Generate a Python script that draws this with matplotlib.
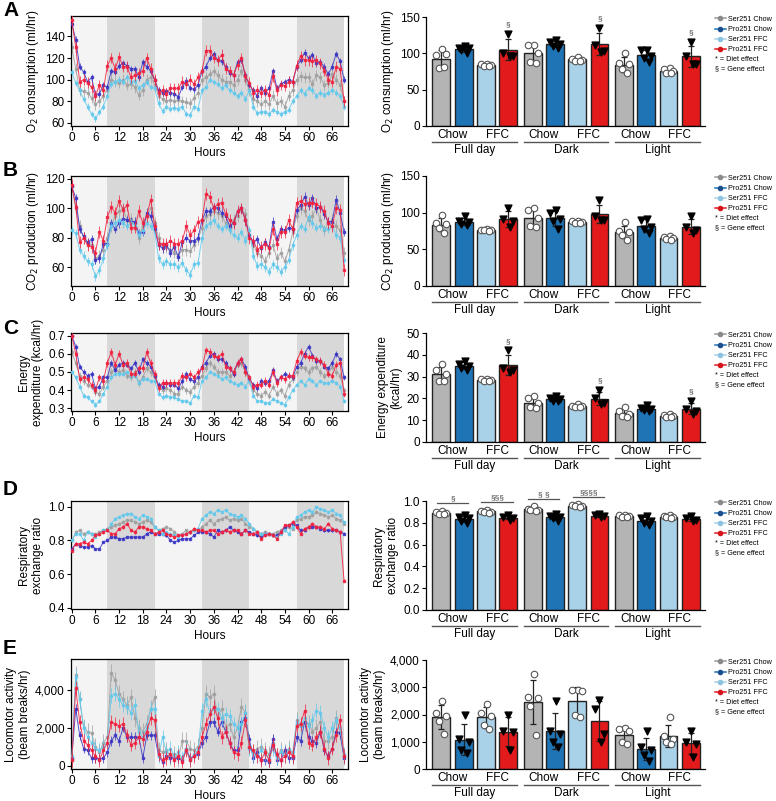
import numpy as np
import matplotlib.pyplot as plt
import matplotlib.transforms as mtransforms
from matplotlib.lines import Line2D
from matplotlib.ticker import FuncFormatter

plt.rcParams['font.family'] = ['Liberation Sans', 'DejaVu Sans']

hours = np.arange(70)
groups = ['Ser251 Chow', 'Pro251 Chow', 'Ser251 FFC', 'Pro251 FFC']
periods = ['Full day', 'Dark', 'Light']
diets = ['Chow', 'FFC']
dark_phases = [(9, 21), (33, 45), (57, 69)]
light_phases = [(0, 9), (21, 33), (45, 57)]

# ---- hourly traces (mean per hour) ----
o2_ser_chow = [130, 110, 90, 89, 88, 83, 77, 80, 85, 90, 100, 98, 97, 100, 95, 96, 93, 86, 90, 100,
               102, 95, 85, 82, 80, 81, 80, 81, 80, 79, 78, 83, 88, 100, 102, 105, 108, 104, 100, 98,
               98, 95, 100, 108, 100, 90, 82, 80, 77, 80, 77, 85, 78, 80, 75, 85, 90, 100, 103, 102,
               102, 96, 104, 102, 95, 97, 105, 100, 95, 80]
o2_ser_ffc = [107, 97, 90, 82, 75, 68, 64, 70, 75, 85, 96, 98, 100, 98, 102, 98, 99, 92, 95, 98,
              93, 92, 78, 71, 75, 73, 74, 73, 75, 68, 67, 75, 73, 90, 93, 100, 98, 96, 92, 95,
              90, 88, 85, 88, 82, 90, 75, 69, 70, 70, 68, 72, 70, 68, 70, 72, 80, 85, 90, 87,
              92, 90, 85, 88, 86, 88, 90, 88, 85, 75]
o2_pro_chow = [152, 137, 112, 107, 98, 102, 86, 87, 95, 93, 108, 107, 113, 115, 113, 110, 110, 102, 116, 112,
               108, 100, 90, 88, 89, 88, 87, 84, 93, 99, 92, 91, 95, 108, 112, 120, 124, 118, 117, 112,
               106, 104, 116, 118, 104, 95, 90, 85, 92, 88, 92, 108, 92, 96, 98, 100, 98, 112, 118, 125,
               120, 123, 115, 116, 112, 105, 112, 124, 117, 100]
o2_pro_ffc = [155, 130, 98, 100, 97, 93, 85, 95, 90, 113, 120, 110, 121, 112, 112, 102, 104, 106, 108, 120,
              110, 100, 88, 90, 87, 92, 92, 92, 98, 96, 100, 96, 102, 108, 127, 127, 120, 118, 123, 110,
              108, 104, 114, 120, 103, 97, 88, 90, 88, 90, 86, 103, 90, 95, 94, 98, 98, 113, 122, 118,
              118, 117, 118, 115, 108, 100, 98, 112, 110, 80]

co2_ser_chow = [115, 100, 88, 80, 76, 75, 66, 68, 72, 80, 88, 95, 98, 100, 92, 93, 90, 80, 88, 95,
                100, 90, 80, 74, 74, 72, 70, 68, 72, 72, 71, 75, 79, 87, 95, 96, 98, 97, 95, 90,
                87, 92, 95, 100, 96, 82, 75, 70, 68, 64, 70, 75, 66, 70, 64, 72, 84, 95, 100, 98,
                92, 95, 100, 92, 85, 90, 92, 88, 85, 70]
co2_ser_ffc = [85, 83, 72, 68, 64, 62, 54, 58, 66, 75, 88, 90, 92, 90, 88, 90, 88, 82, 85, 90,
               88, 84, 66, 62, 64, 62, 62, 60, 63, 58, 55, 62, 63, 80, 88, 90, 92, 88, 86, 88,
               85, 82, 80, 84, 78, 85, 68, 61, 62, 60, 57, 62, 60, 57, 60, 65, 75, 82, 88, 86,
               94, 90, 87, 88, 86, 86, 88, 82, 80, 65]
co2_pro_chow = [115, 107, 86, 81, 77, 79, 65, 66, 76, 76, 90, 86, 90, 93, 92, 91, 91, 83, 84, 97,
                95, 86, 75, 73, 75, 70, 74, 67, 77, 80, 78, 78, 80, 92, 98, 98, 101, 100, 97, 95,
                88, 90, 98, 100, 92, 82, 77, 79, 73, 77, 74, 91, 79, 86, 85, 87, 86, 99, 102, 108,
                102, 107, 100, 101, 96, 91, 91, 106, 97, 84]
co2_pro_ffc = [116, 101, 77, 80, 75, 74, 70, 84, 78, 94, 101, 97, 105, 99, 102, 87, 87, 98, 90, 95,
               106, 88, 76, 76, 76, 78, 76, 76, 78, 88, 82, 85, 91, 92, 110, 108, 100, 103, 104, 96,
               92, 90, 98, 100, 92, 80, 78, 72, 74, 76, 73, 86, 76, 84, 84, 92, 86, 104, 105, 103,
               104, 104, 103, 101, 98, 90, 88, 100, 99, 58]

ee_ser_chow = [0.61, 0.55, 0.48, 0.45, 0.43, 0.42, 0.39, 0.38, 0.42, 0.45, 0.50, 0.52, 0.50, 0.51, 0.48, 0.47, 0.50, 0.44, 0.47, 0.52,
               0.50, 0.47, 0.42, 0.40, 0.41, 0.40, 0.38, 0.38, 0.42, 0.40, 0.39, 0.42, 0.44, 0.48, 0.52, 0.55, 0.53, 0.50, 0.50, 0.50,
               0.48, 0.49, 0.54, 0.55, 0.50, 0.45, 0.40, 0.38, 0.37, 0.39, 0.37, 0.42, 0.38, 0.40, 0.37, 0.43, 0.46, 0.50, 0.53, 0.52,
               0.50, 0.52, 0.53, 0.50, 0.48, 0.49, 0.53, 0.50, 0.48, 0.40]
ee_ser_ffc = [0.50, 0.47, 0.42, 0.37, 0.36, 0.34, 0.32, 0.34, 0.38, 0.42, 0.47, 0.49, 0.49, 0.49, 0.50, 0.48, 0.48, 0.44, 0.46, 0.46,
              0.45, 0.45, 0.38, 0.36, 0.37, 0.36, 0.36, 0.35, 0.34, 0.34, 0.33, 0.37, 0.36, 0.45, 0.47, 0.50, 0.49, 0.48, 0.46, 0.47,
              0.45, 0.44, 0.43, 0.44, 0.42, 0.45, 0.37, 0.34, 0.34, 0.33, 0.33, 0.35, 0.34, 0.33, 0.32, 0.36, 0.40, 0.43, 0.45, 0.43,
              0.46, 0.45, 0.43, 0.45, 0.44, 0.44, 0.45, 0.44, 0.42, 0.34]
ee_pro_chow = [0.70, 0.64, 0.53, 0.50, 0.48, 0.49, 0.41, 0.42, 0.47, 0.47, 0.55, 0.51, 0.54, 0.55, 0.54, 0.52, 0.55, 0.50, 0.57, 0.55,
               0.53, 0.48, 0.43, 0.42, 0.44, 0.43, 0.43, 0.41, 0.45, 0.49, 0.46, 0.45, 0.47, 0.53, 0.55, 0.59, 0.60, 0.57, 0.57, 0.55,
               0.52, 0.49, 0.55, 0.57, 0.53, 0.46, 0.43, 0.41, 0.45, 0.44, 0.45, 0.51, 0.45, 0.47, 0.49, 0.48, 0.47, 0.53, 0.55, 0.60,
               0.64, 0.59, 0.56, 0.56, 0.53, 0.52, 0.55, 0.60, 0.57, 0.47]
ee_pro_ffc = [0.70, 0.60, 0.46, 0.47, 0.46, 0.43, 0.40, 0.47, 0.45, 0.55, 0.61, 0.54, 0.60, 0.54, 0.55, 0.49, 0.49, 0.52, 0.52, 0.61,
              0.55, 0.49, 0.41, 0.44, 0.44, 0.44, 0.44, 0.44, 0.48, 0.47, 0.49, 0.47, 0.50, 0.52, 0.62, 0.61, 0.59, 0.58, 0.60, 0.53,
              0.52, 0.50, 0.55, 0.57, 0.50, 0.47, 0.42, 0.43, 0.43, 0.45, 0.43, 0.50, 0.44, 0.47, 0.46, 0.48, 0.48, 0.56, 0.61, 0.59,
              0.58, 0.58, 0.57, 0.56, 0.54, 0.49, 0.48, 0.54, 0.55, 0.38]

rer_ser_chow = [0.80, 0.85, 0.86, 0.84, 0.85, 0.84, 0.84, 0.85, 0.86, 0.87, 0.88, 0.89, 0.90, 0.91, 0.92, 0.92, 0.91, 0.90, 0.91, 0.92,
                0.91, 0.88, 0.86, 0.87, 0.88, 0.87, 0.85, 0.83, 0.84, 0.86, 0.85, 0.86, 0.86, 0.88, 0.90, 0.92, 0.90, 0.92, 0.93, 0.94,
                0.92, 0.93, 0.92, 0.93, 0.90, 0.88, 0.87, 0.85, 0.84, 0.85, 0.84, 0.84, 0.85, 0.86, 0.87, 0.88, 0.87, 0.92, 0.93, 0.94,
                0.94, 0.95, 0.97, 0.96, 0.95, 0.94, 0.95, 0.93, 0.92, 0.90]
rer_ser_ffc = [0.80, 0.84, 0.84, 0.80, 0.85, 0.84, 0.82, 0.84, 0.86, 0.86, 0.90, 0.93, 0.94, 0.95, 0.96, 0.96, 0.94, 0.93, 0.95, 0.94,
               0.93, 0.88, 0.86, 0.84, 0.85, 0.84, 0.83, 0.82, 0.83, 0.84, 0.85, 0.86, 0.87, 0.93, 0.95, 0.97, 0.96, 0.98, 0.97, 0.98,
               0.96, 0.95, 0.94, 0.95, 0.93, 0.90, 0.87, 0.85, 0.84, 0.84, 0.84, 0.83, 0.82, 0.84, 0.86, 0.84, 0.88, 0.94, 0.95, 0.97,
               0.98, 0.97, 1.00, 0.99, 0.98, 0.97, 0.98, 0.96, 0.95, 0.91]
rer_pro_chow = [0.75, 0.78, 0.77, 0.76, 0.76, 0.77, 0.75, 0.75, 0.79, 0.80, 0.82, 0.82, 0.81, 0.81, 0.82, 0.82, 0.82, 0.82, 0.82, 0.84,
                0.85, 0.84, 0.84, 0.84, 0.83, 0.80, 0.79, 0.80, 0.81, 0.81, 0.81, 0.83, 0.85, 0.85, 0.85, 0.84, 0.82, 0.86, 0.85, 0.86,
                0.88, 0.86, 0.85, 0.84, 0.86, 0.85, 0.84, 0.83, 0.82, 0.84, 0.84, 0.83, 0.83, 0.85, 0.88, 0.89, 0.90, 0.89, 0.86, 0.86,
                0.88, 0.88, 0.88, 0.87, 0.86, 0.86, 0.86, 0.86, 0.85, 0.84]
rer_pro_ffc = [0.74, 0.78, 0.78, 0.79, 0.78, 0.80, 0.83, 0.84, 0.85, 0.86, 0.84, 0.84, 0.87, 0.88, 0.90, 0.86, 0.85, 0.88, 0.88, 0.87,
               0.86, 0.84, 0.85, 0.86, 0.84, 0.83, 0.82, 0.83, 0.83, 0.84, 0.85, 0.87, 0.86, 0.86, 0.85, 0.86, 0.86, 0.84, 0.85, 0.86,
               0.85, 0.86, 0.86, 0.84, 0.86, 0.84, 0.84, 0.85, 0.81, 0.83, 0.84, 0.83, 0.81, 0.85, 0.89, 0.89, 0.91, 0.88, 0.84, 0.87,
               0.88, 0.90, 0.88, 0.88, 0.87, 0.90, 0.87, 0.86, 0.85, 0.56]

loco_ser_chow = [300, 4800, 3500, 2000, 1800, 1700, 1000, 700, 1200, 1500, 4900, 4500, 3800, 3500, 3200, 3600, 2500, 2000, 1800, 2200,
                 3000, 3600, 800, 700, 800, 500, 600, 400, 1300, 1300, 900, 800, 1000, 2000, 3800, 3600, 3800, 2500, 3000, 2000,
                 2200, 1500, 2000, 3100, 2800, 1000, 700, 900, 1000, 800, 600, 1200, 500, 800, 700, 900, 500, 2400, 2100, 2300,
                 2200, 1800, 2000, 2300, 1300, 1300, 1500, 2500, 1800, 500]
loco_ser_ffc = [500, 4700, 3500, 2000, 1500, 1200, 900, 800, 1000, 1200, 3700, 3800, 3500, 3200, 3100, 2800, 3200, 1800, 1500, 2000,
                3000, 3000, 500, 1500, 700, 900, 500, 700, 400, 900, 300, 600, 800, 2900, 3500, 2800, 3000, 3000, 2500, 2700,
                2600, 2200, 2000, 2200, 2800, 900, 600, 500, 800, 600, 400, 900, 400, 700, 500, 800, 700, 2300, 2100, 2500,
                2100, 2400, 2900, 2800, 2000, 1500, 2000, 2400, 2000, 600]
loco_pro_chow = [400, 3000, 1600, 900, 800, 400, 400, 350, 400, 700, 1300, 1600, 1300, 2000, 1500, 1500, 1500, 1500, 400, 1600,
                 1600, 1600, 500, 200, 500, 400, 400, 400, 300, 900, 400, 500, 600, 1200, 1500, 2300, 2300, 1800, 2300, 1800,
                 1200, 800, 800, 2300, 2500, 1400, 400, 700, 300, 300, 200, 1400, 300, 300, 800, 400, 400, 1500, 1300, 2300,
                 1500, 1300, 1200, 1800, 800, 500, 900, 1800, 1700, 400]
loco_pro_ffc = [300, 4100, 2300, 1300, 1100, 800, 500, 300, 800, 1200, 2300, 2200, 2100, 2200, 1600, 1100, 1200, 1500, 1400, 1800,
                2500, 2400, 600, 300, 400, 600, 300, 500, 200, 800, 300, 500, 700, 1500, 2200, 2700, 3100, 2500, 1500, 1800,
                1200, 700, 600, 1200, 2400, 1000, 800, 500, 300, 700, 300, 1100, 600, 300, 500, 700, 500, 2100, 2200, 2900,
                1200, 1100, 1500, 1800, 900, 400, 900, 1600, 2400, 500]

# typical SEM of each hourly trace (Ser Chow, Pro Chow, Ser FFC, Pro FFC)
o2_sem = [5, 3, 3, 5]
co2_sem = [4, 3, 3, 4]
ee_sem = [0.02, 0.015, 0.012, 0.02]
rer_sem = [0.01, 0.008, 0.008, 0.01]
loco_sem = [450, 250, 380, 350]

# ---- individual animals for the bar charts (period-major: Ser Chow, Pro Chow, Ser FFC, Pro FFC) ----
o2_pts = [[106, 98, 99, 80, 81], [110, 108, 107, 104, 101], [86, 85, 84, 83, 82], [127, 101, 96, 96],
          [112, 112, 100, 88, 87], [118, 116, 113, 110, 107], [95, 92, 91, 90, 90], [135, 112, 103, 102],
          [100, 87, 85, 78, 73], [105, 104, 97, 93, 88], [80, 78, 76, 73, 73], [116, 96, 86, 86]]
co2_pts = [[97, 86, 84, 79, 72], [95, 88, 87, 84, 83], [78, 77, 77, 76, 75], [107, 91, 88, 80],
           [106, 104, 93, 82, 81], [103, 100, 92, 88, 78], [89, 88, 87, 86, 86], [117, 96, 90, 90],
           [87, 75, 73, 70, 63], [92, 90, 80, 78, 72], [68, 67, 65, 64, 63], [95, 80, 76, 72]]
ee_pts = [[36, 33, 31, 28, 28], [37, 36, 35, 34, 33], [29, 28.8, 28.5, 28.2, 28], [42, 34, 33, 32],
          [21, 20, 18, 16, 15.5], [21, 20, 19.5, 19, 19], [17.5, 16.6, 16.3, 16, 16], [24, 20, 18, 17.5],
          [16, 14, 13, 12, 11.5], [17, 15.5, 15, 14.5, 14], [13, 12.3, 12, 11.6, 11.3], [19, 15, 14, 13]]
rer_pts = [[0.91, 0.90, 0.89, 0.88, 0.88], [0.87, 0.85, 0.84, 0.82, 0.80], [0.92, 0.91, 0.90, 0.90, 0.89], [0.87, 0.85, 0.84, 0.83],
           [0.95, 0.93, 0.92, 0.92, 0.91], [0.88, 0.86, 0.85, 0.84, 0.82], [0.97, 0.96, 0.955, 0.95, 0.945], [0.88, 0.87, 0.86, 0.85],
           [0.875, 0.87, 0.86, 0.855, 0.85], [0.86, 0.84, 0.82, 0.80, 0.78], [0.87, 0.865, 0.855, 0.85, 0.84], [0.86, 0.84, 0.83, 0.82]]
loco_pts = [[2500, 2050, 1950, 1750, 1300], [2000, 1100, 1000, 700, 600], [2400, 2050, 1950, 1600, 1450], [2000, 1400, 1350, 700],
            [3500, 2650, 2600, 2300, 1250], [2500, 1400, 1300, 1000, 800], [2900, 2900, 2850, 2000, 1900], [2550, 2200, 1300, 1000],
            [1500, 1450, 1400, 1000, 900], [1400, 800, 700, 500, 300], [1900, 1200, 1100, 1000, 900], [1400, 1000, 900, 450]]

o2_sig = ['', '', '', '§', '', '', '', '§', '', '', '', '§']
co2_sig = [''] * 12
ee_sig = ['', '', '', '§', '', '', '', '§', '', '', '', '§']
rer_sig = [''] * 12
loco_sig = [''] * 12
# gene-effect brackets in RER: (period, diet, label)
rer_pairs = [('Full day', 'Chow', '§'), ('Full day', 'FFC', '§§§'),
             ('Dark', 'Chow', '§ §'), ('Dark', 'FFC', '§§§§')]

line_colors = ['#a0a0a0', '#3a35c4', '#62c9ec', '#f2203e']
bar_colors = ['#b4b4b4', '#1f74b5', '#a9d1e7', '#e31a1c']
legend_lc = ['#9a9a9a', '#1f74b5', '#a9d1e7', '#e31a1c']
legend_mfc = ['#8a8a8a', '#1b4f8c', '#8cc3e0', '#d4141c']

W, H = 776, 801
fig = plt.figure(figsize=(W / 100, H / 100), dpi=100)


def add_ax(x0, y0, x1, y1):
    return fig.add_axes([x0 / W, 1 - y1 / H, (x1 - x0) / W, (y1 - y0) / H])


comma = FuncFormatter(lambda v, p: f'{v:,.0f}')


def trace_panel(ax, series, sems, ylim, yticks, ylabel, fmt=None):
    for a, b in light_phases:
        ax.axvspan(a, b, color='#f4f4f4', lw=0, zorder=0)
    for a, b in dark_phases:
        ax.axvspan(a, b, color='#d8d8d8', lw=0, zorder=0)
    for k in [0, 2, 1, 3]:
        ax.errorbar(hours, series[k], yerr=sems[k], color=line_colors[k], lw=0.7,
                    elinewidth=0.6, marker='s', ms=1.5, capsize=0, alpha=0.85, zorder=2 + k)
    ax.set_xlim(-0.2, 70)
    ax.set_ylim(*ylim)
    ax.set_xticks(np.arange(0, 67, 6))
    ax.set_yticks(yticks)
    if fmt is not None:
        ax.yaxis.set_major_formatter(fmt)
    ax.set_xlabel('Hours', fontsize=8.5, labelpad=2)
    ax.set_ylabel(ylabel, fontsize=8.5, labelpad=3)
    ax.tick_params(labelsize=8.5, length=3, width=0.8, pad=1.5)
    for s in ax.spines.values():
        s.set_linewidth(0.9)


bar_x = np.array([g * 4.1 + i for g in range(3) for i in range(4)])
jitter = {5: [0.05, -0.22, 0.22, -0.1, 0.13], 4: [0.0, -0.22, 0.22, 0.08]}


def bar_panel(ax, pts, sig, ylim, yticks, ylabel, fmt=None, pairs=None):
    means = [np.mean(p) for p in pts]
    sds = [np.std(p, ddof=1) for p in pts]
    cols = [bar_colors[i % 4] for i in range(12)]
    ax.bar(bar_x, means, width=0.8, color=cols, edgecolor='#222222', lw=1.0, zorder=2)
    ax.errorbar(bar_x, means, yerr=sds, fmt='none', ecolor='#222222', elinewidth=0.9,
                capsize=2.5, capthick=0.9, zorder=4)
    for i, p in enumerate(pts):
        off = np.array(jitter[len(p)])
        if i % 2 == 0:
            ax.scatter(bar_x[i] + off, p, s=22, marker='o', facecolor='white',
                       edgecolor='#555555', lw=0.8, zorder=5, clip_on=False)
        else:
            ax.scatter(bar_x[i] + off, p, s=24, marker='v', color='black', zorder=5, clip_on=False)
        if sig[i]:
            top = max(max(p), means[i] + sds[i])
            ax.text(bar_x[i], top + 0.05 * ylim[1], sig[i], ha='center', va='bottom',
                    fontsize=6, color='#444444')
    if pairs:
        for per, diet, lab in pairs:
            g = periods.index(per)
            i0 = g * 4 + diets.index(diet) * 2
            top = max(max(pts[i0]), max(pts[i0 + 1]))
            yl = top + 0.07 * ylim[1]
            ax.plot([bar_x[i0] - 0.2, bar_x[i0 + 1] + 0.2], [yl, yl], color='#555555', lw=0.9, clip_on=False)
            ax.text((bar_x[i0] + bar_x[i0 + 1]) / 2, yl + 0.005 * ylim[1], lab, ha='center', va='bottom',
                    fontsize=6, color='#444444')
    ax.set_xlim(-0.69, 11.84)
    ax.set_ylim(*ylim)
    ax.set_yticks(yticks)
    if fmt is not None:
        ax.yaxis.set_major_formatter(fmt)
    ax.set_xticks([])
    ax.spines['top'].set_visible(False)
    ax.spines['right'].set_visible(False)
    ax.spines['left'].set_linewidth(0.9)
    ax.spines['bottom'].set_linewidth(0.9)
    ax.tick_params(labelsize=8.5, length=3, width=0.8, pad=1.5)
    ax.set_ylabel(ylabel, fontsize=8.5, labelpad=3)
    # category labels beneath the axis
    xt = ax.get_xaxis_transform()
    t_diet = mtransforms.offset_copy(xt, fig=fig, y=-9, units='dots')
    t_line = mtransforms.offset_copy(xt, fig=fig, y=-15.5, units='dots')
    t_per = mtransforms.offset_copy(xt, fig=fig, y=-24, units='dots')
    for g, per in enumerate(periods):
        for d, diet in enumerate(diets):
            xc = (bar_x[g * 4 + d * 2] + bar_x[g * 4 + d * 2 + 1]) / 2
            ax.text(xc, 0, diet, transform=t_diet, ha='center', va='center', fontsize=8.5)
        ax.plot([bar_x[g * 4] - 0.4, bar_x[g * 4 + 3] + 0.4], [0, 0], transform=t_line,
                color='#555555', lw=1.0, clip_on=False)
        xc = (bar_x[g * 4] + bar_x[g * 4 + 3]) / 2
        ax.text(xc, 0, per, transform=t_per, ha='center', va='center', fontsize=8.5)
    # legend
    hs = [Line2D([], [], color=legend_lc[k], lw=1.1, marker='o', ms=3.0,
                 mfc=legend_mfc[k], mec=legend_mfc[k]) for k in range(4)]
    leg = ax.legend(hs, groups, loc='upper left', bbox_to_anchor=(1.035, 1.01), frameon=False,
                    fontsize=5.2, handlelength=1.5, handletextpad=0.3, labelspacing=0.42,
                    borderaxespad=0, borderpad=0)
    fig.canvas.draw()
    bb = leg.get_window_extent(fig.canvas.get_renderer())
    x0 = bb.x0 / W
    fig.text(x0, (bb.y0 - 6) / H, '* = Diet effect', fontsize=5.2, va='center')
    fig.text(x0, (bb.y0 - 16) / H, '§ = Gene effect', fontsize=5.2, va='center')


left_boxes = [(71, 16, 348, 126), (71, 176, 348, 286), (71, 333, 348, 411), (71, 501, 348, 609), (71, 659, 348, 769)]
right_boxes = [(426, 17, 705, 126), (426, 176, 705, 286), (426, 333, 705, 442), (426, 501, 705, 610), (426, 660, 705, 769)]

# A
ax = add_ax(*left_boxes[0])
trace_panel(ax, [o2_ser_chow, o2_pro_chow, o2_ser_ffc, o2_pro_ffc], o2_sem, (57, 159),
            [60, 80, 100, 120, 140], 'O$_2$ consumption (ml/hr)')
ax = add_ax(*right_boxes[0])
bar_panel(ax, o2_pts, o2_sig, (0, 150), [0, 50, 100, 150], 'O$_2$ consumption (ml/hr)')

# B
ax = add_ax(*left_boxes[1])
trace_panel(ax, [co2_ser_chow, co2_pro_chow, co2_ser_ffc, co2_pro_ffc], co2_sem, (47.3, 122),
            [60, 80, 100, 120], 'CO$_2$ production (ml/hr)')
ax = add_ax(*right_boxes[1])
bar_panel(ax, co2_pts, co2_sig, (0, 150), [0, 50, 100, 150], 'CO$_2$ production (ml/hr)')

# C
ax = add_ax(*left_boxes[2])
trace_panel(ax, [ee_ser_chow, ee_pro_chow, ee_ser_ffc, ee_pro_ffc], ee_sem, (0.285, 0.715),
            [0.3, 0.4, 0.5, 0.6, 0.7], 'Energy\nexpenditure (kcal/hr)')
ax = add_ax(*right_boxes[2])
bar_panel(ax, ee_pts, ee_sig, (0, 50), [0, 10, 20, 30, 40, 50], 'Energy expenditure\n(kcal/hr)')

# D
ax = add_ax(*left_boxes[3])
trace_panel(ax, [rer_ser_chow, rer_pro_chow, rer_ser_ffc, rer_pro_ffc], rer_sem, (0.392, 1.035),
            [0.4, 0.6, 0.8, 1.0], 'Respiratory\nexchange ratio')
ax = add_ax(*right_boxes[3])
bar_panel(ax, rer_pts, rer_sig, (0, 1.0), [0, 0.2, 0.4, 0.6, 0.8, 1.0], 'Respiratory\nexchange ratio',
          fmt=FuncFormatter(lambda v, p: f'{v:.1f}'), pairs=rer_pairs)

# E
ax = add_ax(*left_boxes[4])
trace_panel(ax, [loco_ser_chow, loco_pro_chow, loco_ser_ffc, loco_pro_ffc], loco_sem, (-180, 5630),
            [0, 2000, 4000], 'Locomotor activity\n(beam breaks/hr)', fmt=comma)
ax = add_ax(*right_boxes[4])
bar_panel(ax, loco_pts, loco_sig, (0, 4000), [0, 1000, 2000, 3000, 4000], 'Locomotor activity\n(beam breaks/hr)',
          fmt=comma)

for lab, y in zip('ABCDE', [10, 170, 329, 489, 648]):
    fig.text(3 / W, 1 - y / H, lab, fontsize=15, fontweight='bold', va='center', ha='left')

fig.savefig('out.png', dpi=100)
